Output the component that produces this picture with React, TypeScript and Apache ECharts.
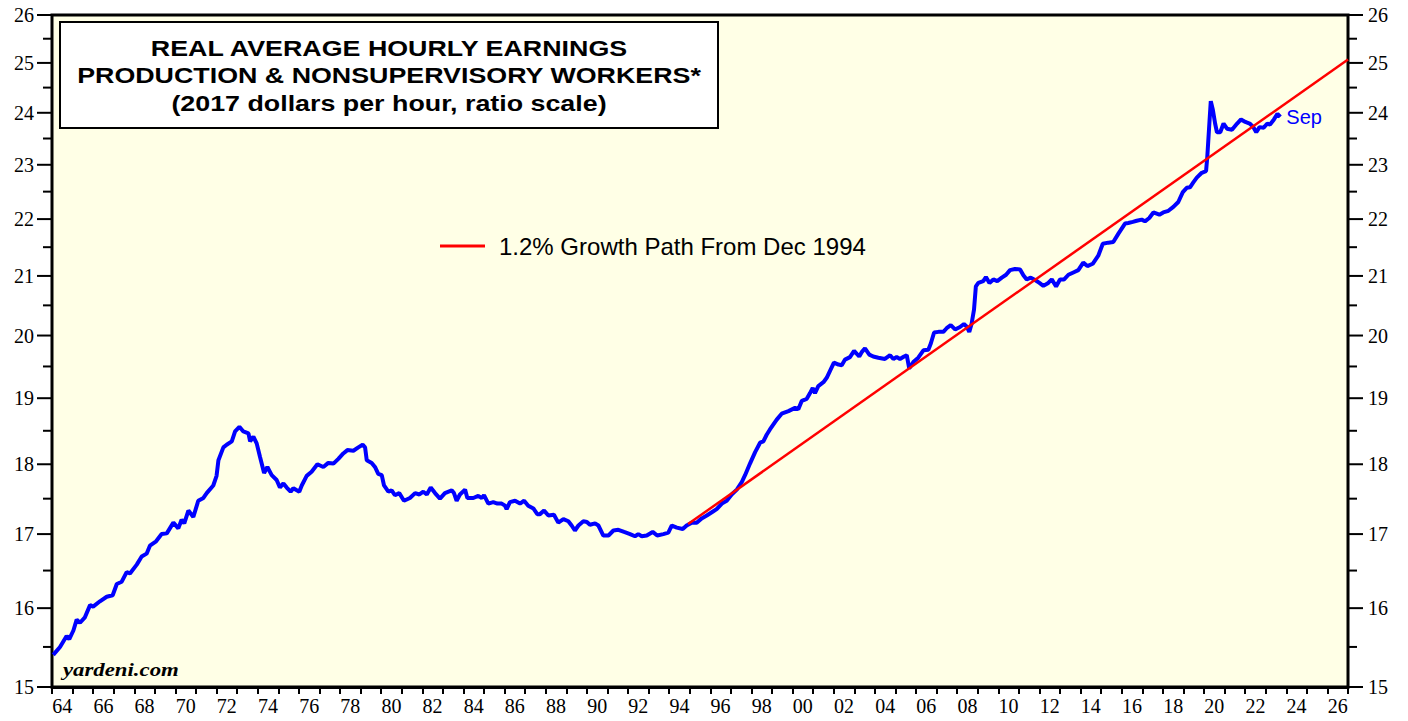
import React, { useEffect, useRef } from "react";
import * as echarts from "echarts";

// ---- Data ----
const firstYear = 1964;
const lastYear = 2026;
const yearCategories: string[] = [];
for (let y = firstYear; y <= lastYear; y++) yearCategories.push(String(y));

const yMajorTicks = [15, 16, 17, 18, 19, 20, 21, 22, 23, 24, 25, 26];
const yMinorTicks = [15.5, 16.5, 17.5, 18.5, 19.5, 20.5, 21.5, 22.5, 23.5, 24.5, 25.5];

const earningsDates = [
  1964.06, 1964.39, 1964.71, 1964.84, 1965.04, 1965.2, 1965.36, 1965.6, 1965.85, 1966.0,
  1966.33, 1966.66, 1966.95, 1967.15, 1967.39, 1967.63, 1967.79, 1968.12, 1968.36, 1968.6,
  1968.76, 1969.06, 1969.33, 1969.58, 1969.9, 1970.14, 1970.3, 1970.43, 1970.63, 1970.87,
  1971.11, 1971.36, 1971.52, 1971.84, 1972.0, 1972.09, 1972.33, 1972.49, 1972.74, 1972.9,
  1973.11, 1973.3, 1973.55, 1973.63, 1973.79, 1973.95, 1974.11, 1974.31, 1974.47, 1974.68,
  1974.92, 1975.08, 1975.25, 1975.41, 1975.6, 1975.73, 1975.9, 1976.02, 1976.14, 1976.38,
  1976.62, 1976.9, 1977.19, 1977.43, 1977.68, 1977.92, 1978.16, 1978.36, 1978.65, 1978.89,
  1979.1, 1979.22, 1979.3, 1979.54, 1979.7, 1979.86, 1980.03, 1980.14, 1980.35, 1980.51,
  1980.67, 1980.88, 1981.11, 1981.4, 1981.65, 1981.86, 1982.05, 1982.22, 1982.41, 1982.62,
  1982.86, 1983.1, 1983.43, 1983.54, 1983.67, 1983.83, 1984.08, 1984.19, 1984.48, 1984.72,
  1984.89, 1985.0, 1985.21, 1985.45, 1985.65, 1985.86, 1986.02, 1986.1, 1986.26, 1986.51,
  1986.75, 1986.95, 1987.15, 1987.4, 1987.59, 1987.72, 1987.92, 1988.13, 1988.4, 1988.61,
  1988.86, 1989.1, 1989.26, 1989.42, 1989.59, 1989.83, 1990.0, 1990.15, 1990.4, 1990.56,
  1990.8, 1991.05, 1991.29, 1991.53, 1991.81, 1992.1, 1992.34, 1992.5, 1992.67, 1992.91,
  1993.2, 1993.42, 1993.72, 1993.96, 1994.13, 1994.37, 1994.66, 1994.85, 1995.1, 1995.34,
  1995.58, 1995.83, 1996.15, 1996.31, 1996.56, 1996.8, 1997.04, 1997.29, 1997.53, 1997.69,
  1997.93, 1998.18, 1998.42, 1998.58, 1998.74, 1998.9, 1999.23, 1999.47, 1999.8, 2000.12,
  2000.28, 2000.45, 2000.69, 2000.85, 2000.98, 2001.09, 2001.25, 2001.5, 2001.66, 2001.82,
  2002.01, 2002.23, 2002.39, 2002.55, 2002.79, 2002.99, 2003.24, 2003.36, 2003.52, 2003.73,
  2003.92, 2004.17, 2004.49, 2004.74, 2004.9, 2005.06, 2005.22, 2005.42, 2005.55, 2005.67,
  2005.87, 2006.11, 2006.36, 2006.6, 2006.72, 2006.88, 2007.09, 2007.33, 2007.49, 2007.69,
  2007.9, 2008.14, 2008.33, 2008.46, 2008.59, 2008.7, 2008.82, 2008.91, 2009.03, 2009.27,
  2009.4, 2009.57, 2009.76, 2009.95, 2010.17, 2010.38, 2010.57, 2010.81, 2011.06, 2011.22,
  2011.38, 2011.58, 2011.79, 2012.0, 2012.19, 2012.43, 2012.6, 2012.81, 2013.0, 2013.2,
  2013.41, 2013.65, 2013.89, 2014.13, 2014.33, 2014.59, 2014.86, 2015.08, 2015.35, 2015.59,
  2015.84, 2016.16, 2016.32, 2016.54, 2016.73, 2016.97, 2017.13, 2017.34, 2017.54, 2017.83,
  2018.02, 2018.27, 2018.51, 2018.75, 2018.97, 2019.16, 2019.32, 2019.48, 2019.65, 2019.89,
  2020.1, 2020.16, 2020.26, 2020.33, 2020.43, 2020.54, 2020.63, 2020.79, 2020.95, 2021.12,
  2021.36, 2021.61, 2021.8, 2022.01, 2022.22, 2022.38, 2022.54, 2022.7, 2022.9, 2023.08,
  2023.21, 2023.4, 2023.57, 2023.71,
];

const earningsValues = [
  15.4, 15.5, 15.64, 15.6, 15.71, 15.85, 15.81, 15.88, 16.04, 16.02,
  16.09, 16.15, 16.17, 16.32, 16.35, 16.48, 16.46, 16.58, 16.69, 16.73,
  16.84, 16.9, 17.0, 17.01, 17.16, 17.08, 17.2, 17.15, 17.33, 17.24,
  17.47, 17.51, 17.58, 17.69, 17.83, 18.06, 18.25, 18.29, 18.34, 18.49,
  18.56, 18.49, 18.46, 18.34, 18.41, 18.31, 18.11, 17.87, 17.96, 17.84,
  17.77, 17.66, 17.72, 17.66, 17.6, 17.65, 17.62, 17.6, 17.69, 17.83,
  17.89, 18.0, 17.96, 18.02, 18.01, 18.08, 18.16, 18.21, 18.2, 18.25,
  18.29, 18.25, 18.06, 18.02, 17.96, 17.86, 17.84, 17.69, 17.6, 17.62,
  17.55, 17.58, 17.47, 17.51, 17.58, 17.56, 17.6, 17.56, 17.66, 17.58,
  17.5, 17.58, 17.62, 17.58, 17.47, 17.56, 17.63, 17.51, 17.51, 17.54,
  17.51, 17.55, 17.43, 17.45, 17.43, 17.43, 17.4, 17.35, 17.45, 17.47,
  17.43, 17.47, 17.4, 17.36, 17.28, 17.28, 17.33, 17.26, 17.27, 17.16,
  17.21, 17.18, 17.12, 17.05, 17.12, 17.18, 17.17, 17.13, 17.15, 17.12,
  16.98, 16.98, 17.05, 17.06, 17.03, 17.0, 16.97, 17.0, 16.97, 16.98,
  17.03, 16.98, 17.0, 17.02, 17.12, 17.09, 17.07, 17.12, 17.16, 17.16,
  17.22, 17.26, 17.32, 17.35, 17.43, 17.47, 17.56, 17.63, 17.74, 17.84,
  18.01, 18.18, 18.32, 18.34, 18.44, 18.52, 18.67, 18.76, 18.8, 18.85,
  18.83, 18.96, 18.99, 19.08, 19.16, 19.08, 19.19, 19.25, 19.32, 19.43,
  19.56, 19.53, 19.52, 19.61, 19.65, 19.75, 19.66, 19.73, 19.79, 19.69,
  19.66, 19.64, 19.62, 19.68, 19.62, 19.65, 19.62, 19.66, 19.68, 19.47,
  19.57, 19.64, 19.76, 19.77, 19.87, 20.05, 20.06, 20.06, 20.12, 20.17,
  20.1, 20.14, 20.19, 20.15, 20.06, 20.19, 20.43, 20.82, 20.88, 20.91,
  20.98, 20.88, 20.94, 20.91, 20.97, 21.02, 21.1, 21.12, 21.11, 21.01,
  20.94, 20.97, 20.93, 20.88, 20.83, 20.88, 20.94, 20.82, 20.94, 20.94,
  21.02, 21.06, 21.1, 21.23, 21.17, 21.21, 21.35, 21.56, 21.58, 21.59,
  21.74, 21.92, 21.93, 21.95, 21.97, 21.99, 21.96, 22.02, 22.12, 22.08,
  22.12, 22.15, 22.22, 22.31, 22.49, 22.57, 22.58, 22.67, 22.76, 22.85,
  22.88, 23.15, 23.79, 24.23, 24.06, 23.79, 23.62, 23.62, 23.79, 23.69,
  23.67, 23.79, 23.87, 23.82, 23.79, 23.73, 23.62, 23.72, 23.71, 23.79,
  23.77, 23.87, 23.98, 23.92,
];

const growthDates = [1994.92, 2027.0];
const growthValues = [17.14, 25.07];

const titleLines = [
  "REAL AVERAGE HOURLY EARNINGS",
  "PRODUCTION & NONSUPERVISORY WORKERS*",
  "(2017 dollars per hour, ratio scale)",
];
const growthName = "1.2% Growth Path From Dec 1994";
const lastLabel = "Sep";
const sourceText = "yardeni.com";

export default function App() {
  const ref = useRef<HTMLDivElement>(null);

  useEffect(() => {
    document.body.style.margin = "0";
    if (!ref.current) return;
    const chart = echarts.init(ref.current, undefined, { renderer: "svg" });

    const earningsData = earningsDates.map((d, i) => [d, earningsValues[i]]);
    const growthData = growthDates.map((d, i) => [d, growthValues[i]]);
    const tickData = [
      ...yMajorTicks.map((v) => [firstYear, v, 1]),
      ...yMinorTicks.map((v) => [firstYear, v, 0]),
    ];

    const serifFont = '20px "Liberation Serif"';

    const option: any = {
      animation: false,
      backgroundColor: "#ffffff",
      grid: {
        left: 52,
        right: 60,
        top: 15,
        bottom: 34,
        show: true,
        backgroundColor: "#FFFFE6",
        borderColor: "#000",
        borderWidth: 3,
        containLabel: false,
        outerBoundsMode: "none",
      },
      xAxis: [
        {
          type: "category",
          data: yearCategories,
          boundaryGap: true,
          position: "bottom",
          axisLine: { show: true, lineStyle: { color: "#000", width: 3 } },
          axisTick: {
            show: true,
            interval: 0,
            alignWithLabel: false,
            length: 7,
            inside: false,
            lineStyle: { color: "#000", width: 2 },
          },
          axisLabel: {
            interval: 1,
            margin: 9,
            color: "#000",
            fontFamily: "Liberation Serif",
            fontSize: 20,
            formatter: (v: string) => v.slice(2),
          },
          splitLine: { show: false },
        },
        {
          type: "value",
          min: firstYear,
          max: lastYear + 1,
          show: false,
          splitLine: { show: false },
        },
      ],
      yAxis: [
        {
          type: "log",
          logBase: 10,
          min: 15,
          max: 26,
          show: false,
          splitLine: { show: false },
        },
      ],
      legend: {
        show: true,
        data: [growthName],
        left: 435,
        top: 229,
        icon: "rect",
        itemWidth: 45,
        itemHeight: 3,
        selectedMode: false,
        textStyle: {
          color: "#000",
          fontFamily: "Liberation Sans",
          fontSize: 24,
          padding: [0, 0, 0, 9],
        },
      },
      graphic: [
        {
          type: "rect",
          z: 100,
          shape: { x: 60, y: 22, width: 658, height: 106 },
          style: { fill: "#ffffff", stroke: "#000", lineWidth: 2 },
        },
        ...titleLines.map((t, i) => ({
          type: "text",
          z: 101,
          x: 389,
          y: 48 + i * 27.5,
          scaleX: 1.22,
          style: {
            text: t,
            x: 0,
            y: 0,
            fill: "#000",
            font: 'bold 22px "Liberation Sans"',
            align: "center",
            verticalAlign: "middle",
            textAlign: "center",
            textVerticalAlign: "middle",
          },
        })),
        {
          type: "text",
          z: 101,
          x: 63,
          y: 670,
          scaleX: 1.2,
          style: {
            text: sourceText,
            x: 0,
            y: 0,
            fill: "#000",
            font: 'italic bold 19px "Liberation Serif"',
            align: "left",
            verticalAlign: "middle",
            textAlign: "left",
            textVerticalAlign: "middle",
          },
        },
      ],
      series: [
        {
          name: "Real Average Hourly Earnings",
          type: "line",
          xAxisIndex: 1,
          yAxisIndex: 0,
          data: earningsData,
          showSymbol: false,
          symbol: "none",
          z: 3,
          lineStyle: { color: "#0000FF", width: 4 },
          endLabel: {
            show: true,
            formatter: lastLabel,
            color: "#0000FF",
            fontFamily: "Liberation Sans",
            fontSize: 20,
            distance: 6,
          },
        },
        {
          name: growthName,
          type: "line",
          xAxisIndex: 1,
          yAxisIndex: 0,
          data: growthData,
          showSymbol: false,
          symbol: "none",
          z: 4,
          color: "#FF0000",
          lineStyle: { color: "#FF0000", width: 2.5 },
        },
        {
          name: "yTicks",
          type: "custom",
          xAxisIndex: 1,
          yAxisIndex: 0,
          data: tickData,
          silent: true,
          clip: false,
          z: 10,
          encode: { x: 0, y: 1 },
          renderItem: (params: any, api: any) => {
            const v = api.value(1);
            const major = api.value(2) === 1;
            const p = api.coord([api.value(0), v]);
            const cs = params.coordSys;
            const L = cs.x;
            const R = cs.x + cs.width;
            const y = p[1];
            const len = major ? 15 : 9;
            const children: any[] = [
              {
                type: "line",
                shape: { x1: L - len, y1: y, x2: L, y2: y },
                style: { stroke: "#000", lineWidth: 2 },
              },
              {
                type: "line",
                shape: { x1: R, y1: y, x2: R + len, y2: y },
                style: { stroke: "#000", lineWidth: 2 },
              },
            ];
            if (major) {
              children.push({
                type: "text",
                x: L - 18,
                y: y,
                style: {
                  text: String(v),
                  fill: "#000",
                  font: serifFont,
                  align: "right",
                  verticalAlign: "middle",
                  textAlign: "right",
                  textVerticalAlign: "middle",
                },
              });
              children.push({
                type: "text",
                x: R + 20,
                y: y,
                style: {
                  text: String(v),
                  fill: "#000",
                  font: serifFont,
                  align: "left",
                  verticalAlign: "middle",
                  textAlign: "left",
                  textVerticalAlign: "middle",
                },
              });
            }
            return { type: "group", children };
          },
        },
      ],
    };

    chart.setOption(option);
    return () => {
      chart.dispose();
    };
  }, []);

  return <div ref={ref} style={{ width: 1408, height: 721 }} />;
}
